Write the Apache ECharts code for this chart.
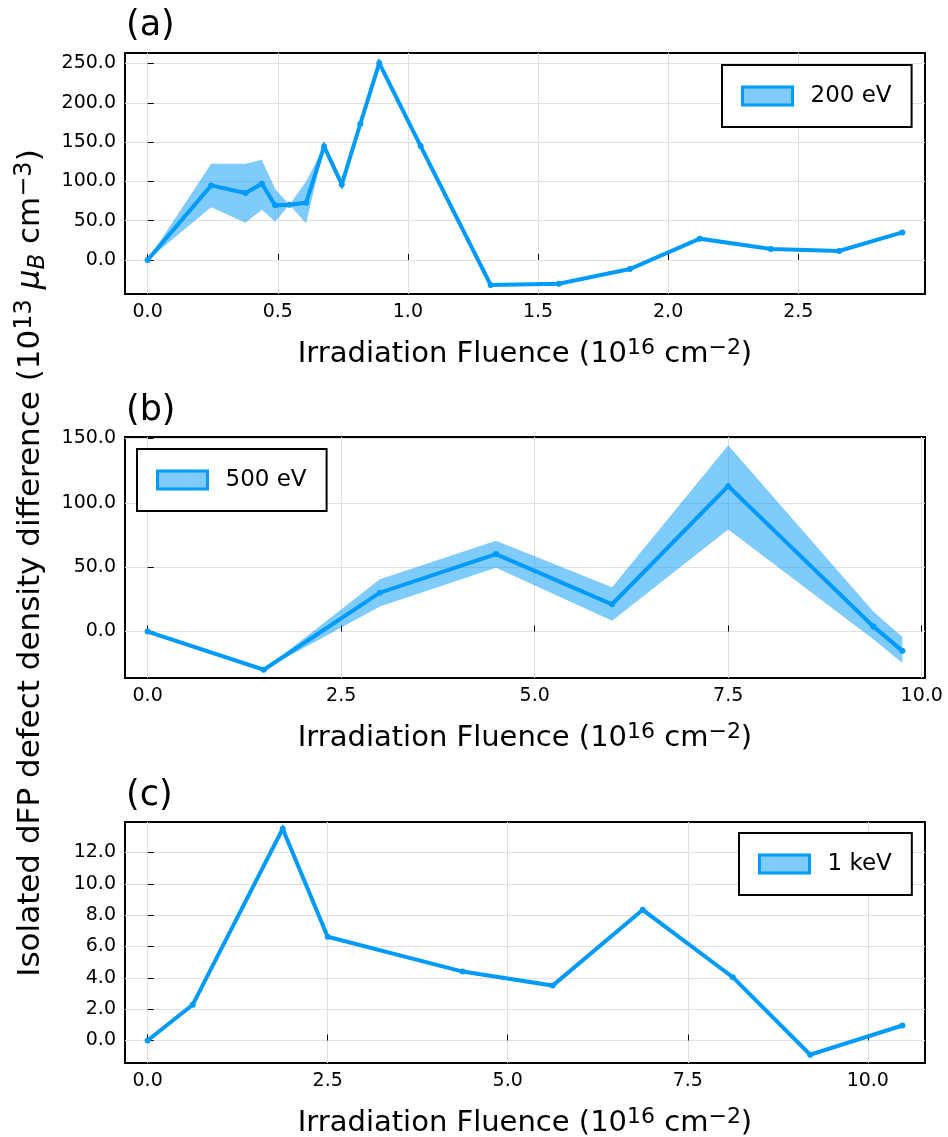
<!DOCTYPE html>
<html>
<head>
<meta charset="utf-8">
<script src="https://cdn.jsdelivr.net/npm/echarts@6/dist/echarts.min.js"></script>
<style>
  html, body { margin: 0; padding: 0; background: #fff; }
  #chart { width: 948px; height: 1137px; }
</style>
</head>
<body>
<div id="chart"></div>
<script>
// ---- (a) 200 eV ----
const fluenceA = [0, 0.244, 0.376, 0.439, 0.49, 0.545, 0.609, 0.678, 0.746, 0.817, 0.89, 1.049, 1.318, 1.58, 1.853, 2.122, 2.395, 2.657, 2.9];
const meanA    = [0, 94.9, 85.2, 97.1, 69.5, 70.3, 72.9, 144.5, 96.2, 173.0, 250.6, 145.0, -31.8, -30.2, -11.5, 27.1, 14.0, 11.4, 35.1];
const lowA     = [0, 67.0, 47.5, 64.0, 48.7, 70.3, 46.5, 144.5, 96.2, 173.0, 250.6, 145.0, -31.8, -30.2, -11.5, 27.1, 14.0, 11.4, 35.1];
const upA      = [0, 122.5, 122.5, 127.6, 90.3, 70.3, 100.0, 144.5, 96.2, 173.0, 250.6, 145.0, -31.8, -30.2, -11.5, 27.1, 14.0, 11.4, 35.1];
const xTicksA  = [0, 0.5, 1.0, 1.5, 2.0, 2.5];
const yTicksA  = [0, 50, 100, 150, 200, 250];

// ---- (b) 500 eV ----
const fluenceB = [0, 1.5, 3.0, 4.5, 6.0, 7.5, 9.375, 9.75];
const meanB    = [0, -29.7, 30.2, 60.2, 21.2, 113.0, 4.0, -15.0];
const lowB     = [0, -29.7, 19.4, 49.6, 8.3, 79.4, -5.9, -24.5];
const upB      = [0, -29.7, 40.6, 70.5, 34.4, 144.7, 15.5, -4.3];
const xTicksB  = [0, 2.5, 5.0, 7.5, 10.0];
const yTicksB  = [0, 50, 100, 150];

// ---- (c) 1 keV ----
const fluenceC = [0, 0.625, 1.875, 2.5, 4.375, 5.625, 6.875, 8.125, 9.2, 10.48];
const meanC    = [0, 2.28, 13.51, 6.62, 4.40, 3.51, 8.34, 4.04, -0.91, 0.96];
const xTicksC  = [0, 2.5, 5.0, 7.5, 10.0];
const yTicksC  = [0, 2, 4, 6, 8, 10, 12];

const labels = ['200 eV', '500 eV', '1 keV'];
const panelTags = ['(a)', '(b)', '(c)'];

const FONT = 'DejaVu Sans';
const BLUE = '#009af9';
const BAND = 'rgba(0,154,249,0.5)';

// plot frames: top edge and axis ranges
const frames = [
  { top: 53,  x: [-0.087, 2.987],   y: [-43.3, 263.4] },
  { top: 437, x: [-0.2925, 10.0425], y: [-36.1, 151.2] },
  { top: 822, x: [-0.3144, 10.7944], y: [-1.435, 13.945] }
];
const xTicks = [xTicksA, xTicksB, xTicksC];
const yTicks = [yTicksA, yTicksB, yTicksC];

const fmt1 = v => Number(v).toFixed(1);

const grids = frames.map(f => ({
  left: 125, width: 800, top: f.top, height: 241,
  containLabel: false, outerBoundsMode: 'none',
  show: true, borderColor: '#000', borderWidth: 2, backgroundColor: 'transparent'
}));

const xAxes = frames.map((f, i) => ({
  gridIndex: i, type: 'value', min: f.x[0], max: f.x[1],
  axisLine: { show: false },
  axisTick: { show: true, inside: true, length: 6, customValues: xTicks[i], lineStyle: { color: '#000', width: 1 } },
  axisLabel: { customValues: xTicks[i], formatter: fmt1, fontSize: 19, color: '#000', fontFamily: FONT, margin: 9 },
  splitLine: { show: true, lineStyle: { color: '#e0e0e0', width: 1 } },
  name: 'Irradiation Fluence (10{sup|16} cm{sup|\u22122})',
  nameLocation: 'middle', nameGap: 43,
  nameTextStyle: {
    fontSize: 29, color: '#000', fontFamily: FONT, lineHeight: 35,
    rich: { sup: { fontSize: 22, lineHeight: 22, verticalAlign: 'top', color: '#000', fontFamily: FONT } }
  }
}));

const yAxes = frames.map((f, i) => ({
  gridIndex: i, type: 'value', min: f.y[0], max: f.y[1],
  axisLine: { show: false },
  axisTick: { show: true, inside: true, length: 6, customValues: yTicks[i], lineStyle: { color: '#000', width: 1 } },
  axisLabel: { customValues: yTicks[i], formatter: fmt1, fontSize: 19, color: '#000', fontFamily: FONT, margin: 9 },
  splitLine: { show: true, lineStyle: { color: '#e0e0e0', width: 1 } }
}));

// shaded band between lower and upper bounds, drawn as one polygon
function bandSeries(idx, xs, lo, hi) {
  return {
    type: 'custom', name: labels[idx] + ' band', xAxisIndex: idx, yAxisIndex: idx,
    z: 2, silent: true,
    data: xs.map((x, k) => [x, lo[k], hi[k]]),
    encode: { x: 0, y: [1, 2] },
    renderItem: (params, api) => {
      if (params.dataIndex !== 0) return null;
      const pts = [];
      for (let k = 0; k < xs.length; k++) pts.push(api.coord([xs[k], hi[k]]));
      for (let k = xs.length - 1; k >= 0; k--) pts.push(api.coord([xs[k], lo[k]]));
      return { type: 'polygon', shape: { points: pts }, style: { fill: BAND, stroke: null } };
    }
  };
}

function lineSeries(idx, xs, ys) {
  return {
    type: 'line', name: labels[idx], xAxisIndex: idx, yAxisIndex: idx, z: 3,
    data: xs.map((x, k) => [x, ys[k]]),
    showSymbol: true, symbol: 'circle', symbolSize: 6,
    itemStyle: { color: BLUE },
    lineStyle: { color: BLUE, width: 4, join: 'miter' }
  };
}

function legendAt(idx, left, top) {
  return {
    left: left, top: top, selectedMode: false,
    data: [{ name: labels[idx], icon: 'rect', itemStyle: { color: BAND, borderColor: BLUE, borderWidth: 3 } }],
    itemWidth: 50, itemHeight: 18,
    padding: [19, 20, 19, 19],
    backgroundColor: '#fff', borderColor: '#000', borderWidth: 2, borderRadius: 0,
    textStyle: { fontSize: 23, lineHeight: 24, color: '#000', fontFamily: FONT, padding: [0, 0, 0, 13] }
  };
}

const tagY = [26, 411, 796];

const option = {
  animation: false,
  backgroundColor: '#fff',
  grid: grids,
  xAxis: xAxes,
  yAxis: yAxes,
  legend: [legendAt(0, 722, 65), legendAt(1, 137, 449), legendAt(2, 739, 833)],
  series: [
    bandSeries(0, fluenceA, lowA, upA),
    lineSeries(0, fluenceA, meanA),
    bandSeries(1, fluenceB, lowB, upB),
    lineSeries(1, fluenceB, meanB),
    lineSeries(2, fluenceC, meanC)
  ],
  graphic: [
    ...panelTags.map((t, i) => ({
      type: 'text', x: 126, y: tagY[i], z: 10,
      style: { text: t, fontSize: 35, fontFamily: FONT, fill: '#000', align: 'left', verticalAlign: 'middle', textAlign: 'left', textVerticalAlign: 'middle' }
    })),
    {
      type: 'text', x: 31, y: 563, rotation: Math.PI / 2, z: 10,
      style: {
        text: 'Isolated dFP defect density difference (10{sup|13} {mu|\u03bc}{sub|B} cm{sup|\u22123})',
        fontSize: 31, fontFamily: FONT, fill: '#000', lineHeight: 37,
        align: 'center', verticalAlign: 'middle', textAlign: 'center', textVerticalAlign: 'middle',
        rich: {
          sup: { fontSize: 24, lineHeight: 24, verticalAlign: 'top', fontFamily: FONT, fill: '#000' },
          sub: { fontSize: 23, lineHeight: 23, verticalAlign: 'bottom', fontStyle: 'italic', fontFamily: FONT, fill: '#000' },
          mu: { fontSize: 31, lineHeight: 37, fontStyle: 'italic', fontFamily: FONT, fill: '#000' }
        }
      }
    }
  ]
};

const chart = echarts.init(document.getElementById('chart'), null, { renderer: 'canvas' });
chart.setOption(option);
</script>
</body>
</html>
